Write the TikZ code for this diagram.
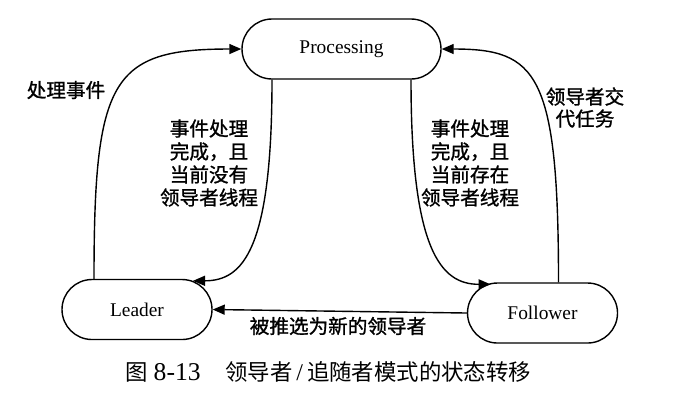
\documentclass[tikz,border=0pt]{standalone}
\usepackage{fontspec}
\setmainfont{Liberation Serif}
\newfontfamily\cjk{Noto Sans CJK SC}
\newfontfamily\cjkb{Noto Sans CJK SC}[FakeBold=1.2]
\usetikzlibrary{arrows.meta}
\begin{document}
\begin{tikzpicture}[x=0.5pt,y=-0.5pt, line width=0.7pt,
  state/.style={draw, rectangle, rounded corners=15pt, minimum width=75pt,
    minimum height=30pt, inner sep=0pt, font=\fontsize{9.7}{11}\selectfont},
  arr/.style={-{Triangle[length=6pt,width=5pt]}},
  lab/.style={font=\cjkb\fontsize{9.8}{11.5}\selectfont, align=center, inner sep=0pt}]
\useasboundingbox (0,0) rectangle (688,404);
\node[state, minimum width=99.5pt] (P) at (341.5,49) {Processing};
\node[state] (L) at (137,309.5) {Leader};
\node[state] (F) at (542.5,313) {Follower};

\draw[arr] ([xshift=-21.5pt]L.north) .. controls +(0,-200) and +(-130,0) .. (P.west);
\draw[arr] ([xshift=-34.75pt]P.south) .. controls +(0,170) and +(50,0) .. ([xshift=28pt,yshift=-1pt]L.north);
\draw[arr] ([xshift=34.75pt]P.south) .. controls +(0,170) and +(-50,0) .. ([xshift=-26pt,yshift=-1pt]F.north);
\draw[arr] ([xshift=8pt]F.north) .. controls +(0,-210) and +(95,0) .. (P.east);
\draw[arr] (F.west) -- (L.east);

\node[lab] (t1) at (66,90) {处理事件};
\node[lab] (t2) at (209,163) {事件处理\\完成，且\\当前没有\\领导者线程};
\node[lab] (t3) at (470,163) {事件处理\\完成，且\\当前存在\\领导者线程};
\node[lab, font=\cjkb\fontsize{9.8}{11}\selectfont] (t4) at (585,107.5) {领导者交\\代任务};
\node[lab] (t5) at (338,326) {被推选为新的领导者};
\node[font=\cjk\fontsize{11.2}{13}\selectfont, inner sep=0pt, anchor=west] (cap) at (125,372)
  {图\hspace{0.25em}{\rmfamily\fontsize{12.8}{13}\selectfont 8-13}\hspace{1.1em}领导者{\rmfamily\fontsize{12}{13}\selectfont\,/\,}追随者模式的状态转移};
\end{tikzpicture}
\end{document}
